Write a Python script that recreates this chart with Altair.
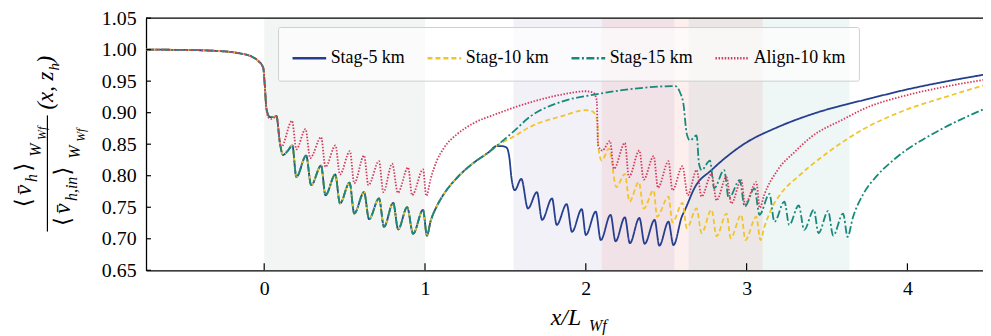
import altair as alt
import pandas as pd

# ---------------- data ----------------
SERIES = ["Stag-5 km", "Stag-10 km", "Stag-15 km", "Align-10 km"]
COLORS = ["#253f8e", "#f0c52c", "#17897b", "#d43b5c"]
DASHES = [[1, 0], [5, 3], [8, 2.5, 2, 2.5], [1.5, 1.6]]

# upstream of first farm (all cases)
PRE_X = [-0.735, -0.5, -0.3, -0.15, -0.07, -0.037, -0.006, 0.004, 0.014]
PRE_Y = [1.000, 0.9995, 0.998, 0.994, 0.988, 0.982, 0.971, 0.942, 0.906]

# staggered cases inside first farm (identical for 5/10/15 km)
STAG_F1_X = [0.035, 0.060, 0.076, 0.097, 0.117, 0.148, 0.175, 0.200, 0.261, 0.292,
             0.354, 0.381, 0.442, 0.471, 0.531, 0.560, 0.621, 0.652, 0.714, 0.745,
             0.802, 0.833, 0.889, 0.926, 0.988, 1.012]
STAG_F1_Y = [0.893, 0.893, 0.895, 0.853, 0.833, 0.840, 0.848, 0.798, 0.832, 0.785,
             0.816, 0.769, 0.802, 0.756, 0.789, 0.740, 0.774, 0.731, 0.764, 0.719,
             0.757, 0.715, 0.750, 0.708, 0.746, 0.705]

# shared recovery behind first farm (staggered)
STAG_REC_X = [1.035, 1.074, 1.12, 1.2, 1.3, 1.4, 1.444]
STAG_REC_Y = [0.728, 0.752, 0.772, 0.797, 0.820, 0.838, 0.847]

# Stag-5 km: second farm + wake recovery
S5_X = [1.475, 1.506, 1.525, 1.537, 1.558, 1.599, 1.640, 1.696, 1.728, 1.790,
        1.819, 1.881, 1.914, 1.975, 2.000, 2.062, 2.093, 2.154, 2.185, 2.243,
        2.274, 2.333, 2.366, 2.428, 2.457, 2.514, 2.545, 2.597, 2.617, 2.679,
        2.782, 2.988, 3.193, 3.399, 3.600, 3.728, 4.000, 4.250, 4.470]
S5_Y = [0.847, 0.845, 0.828, 0.798, 0.777, 0.795, 0.748, 0.774, 0.730, 0.764,
        0.722, 0.755, 0.711, 0.747, 0.706, 0.743, 0.698, 0.738, 0.696, 0.734,
        0.693, 0.733, 0.692, 0.730, 0.689, 0.727, 0.690, 0.735, 0.746, 0.782,
        0.809, 0.851, 0.877, 0.897, 0.912, 0.920, 0.937, 0.950, 0.960]

# Stag-10 km
S10_X = [1.55, 1.65, 1.856, 2.000, 2.041, 2.072, 2.078, 2.099, 2.144, 2.190,
         2.243, 2.272, 2.329, 2.360, 2.422, 2.443, 2.514, 2.539, 2.601, 2.628,
         2.689, 2.720, 2.782, 2.813, 2.875, 2.901, 2.967, 2.992, 3.060, 3.086,
         3.111, 3.150, 3.214, 3.317, 3.399, 3.500, 3.728, 3.975, 4.250, 4.470]
S10_Y = [0.862, 0.877, 0.895, 0.904, 0.902, 0.887, 0.845, 0.824, 0.843, 0.782,
         0.803, 0.759, 0.790, 0.748, 0.777, 0.735, 0.767, 0.726, 0.757, 0.717,
         0.748, 0.709, 0.746, 0.704, 0.740, 0.701, 0.738, 0.698, 0.735, 0.698,
         0.719, 0.745, 0.772, 0.798, 0.816, 0.836, 0.874, 0.903, 0.926, 0.943]

# Stag-15 km
S15_X = [1.55, 1.65, 1.856, 2.062, 2.268, 2.535, 2.556, 2.586, 2.607, 2.628,
         2.648, 2.689, 2.704, 2.720, 2.772, 2.798, 2.860, 2.889, 2.957, 2.988,
         3.049, 3.080, 3.142, 3.173, 3.235, 3.265, 3.324, 3.358, 3.418, 3.447,
         3.507, 3.538, 3.600, 3.628, 3.660, 3.728, 3.800, 3.900, 4.000, 4.100,
         4.250, 4.470]
S15_Y = [0.870, 0.893, 0.918, 0.929, 0.937, 0.942, 0.942, 0.932, 0.914, 0.866,
         0.856, 0.864, 0.819, 0.809, 0.824, 0.780, 0.809, 0.764, 0.793, 0.751,
         0.780, 0.738, 0.771, 0.727, 0.759, 0.722, 0.753, 0.714, 0.746, 0.709,
         0.744, 0.705, 0.740, 0.703, 0.733, 0.772, 0.797, 0.822, 0.842, 0.858,
         0.879, 0.905]

# Align-10 km
AL_X = [0.025, 0.045, 0.076, 0.105, 0.173, 0.200, 0.257, 0.286, 0.354, 0.381,
        0.443, 0.471, 0.533, 0.560, 0.621, 0.648, 0.714, 0.741, 0.796, 0.831,
        0.895, 0.920, 0.988, 1.008, 1.035, 1.074, 1.12, 1.2, 1.3, 1.444,
        1.65, 1.856, 2.000, 2.045, 2.068, 2.076, 2.103, 2.150, 2.175, 2.243,
        2.268, 2.333, 2.360, 2.422, 2.449, 2.514, 2.539, 2.601, 2.634, 2.689,
        2.720, 2.782, 2.813, 2.874, 2.905, 2.967, 2.990, 3.060, 3.082, 3.110,
        3.193, 3.300, 3.399, 3.605, 3.728, 4.000, 4.250, 4.470]
AL_Y = [0.893, 0.890, 0.894, 0.845, 0.887, 0.842, 0.874, 0.828, 0.861, 0.814,
        0.848, 0.802, 0.839, 0.788, 0.832, 0.785, 0.823, 0.774, 0.819, 0.773,
        0.813, 0.769, 0.810, 0.768, 0.795, 0.824, 0.845, 0.866, 0.883, 0.898,
        0.916, 0.929, 0.934, 0.932, 0.920, 0.848, 0.840, 0.855, 0.811, 0.852,
        0.798, 0.840, 0.794, 0.831, 0.781, 0.823, 0.777, 0.815, 0.769, 0.809,
        0.767, 0.803, 0.761, 0.798, 0.756, 0.793, 0.755, 0.790, 0.749, 0.770,
        0.809, 0.838, 0.861, 0.890, 0.906, 0.928, 0.942, 0.952]

# shaded wind-farm regions
REG_START = [0.0, 1.55, 2.10, 2.64]
REG_END = [1.0, 2.55, 3.10, 3.64]
REG_FILL = ["#b4bdb8", "#8c84c0", "#e07060", "#60a8a8"]
REG_OPACITY = [0.16, 0.11, 0.11, 0.10]

X_TICKS = [0, 1, 2, 3, 4]
Y_TICKS = [0.65, 0.70, 0.75, 0.80, 0.85, 0.90, 0.95, 1.00, 1.05]

# ---------------- build tables ----------------
rows = []
def add(name, xs, ys):
    for a, b in zip(xs, ys):
        rows.append({"series": name, "x": a, "y": b, "i": len(rows)})

add("Stag-5 km", PRE_X + STAG_F1_X + STAG_REC_X + S5_X, PRE_Y + STAG_F1_Y + STAG_REC_Y + S5_Y)
add("Stag-10 km", PRE_X + STAG_F1_X + STAG_REC_X + S10_X, PRE_Y + STAG_F1_Y + STAG_REC_Y + S10_Y)
add("Stag-15 km", PRE_X + STAG_F1_X + STAG_REC_X + S15_X, PRE_Y + STAG_F1_Y + STAG_REC_Y + S15_Y)
add("Align-10 km", PRE_X + AL_X, PRE_Y + AL_Y)
df = pd.DataFrame(rows)

regions = pd.DataFrame({"a": REG_START, "b": REG_END, "f": REG_FILL, "o": REG_OPACITY})

W, H = 843, 254
FONT = "'Liberation Serif', 'Times New Roman', Times, 'DejaVu Serif', serif"
xscale = alt.Scale(domain=[-0.735, 4.47], nice=False, zero=False)
yscale = alt.Scale(domain=[0.65, 1.05], nice=False, zero=False)
XAX = alt.Axis(values=X_TICKS, format="d", labelPadding=8, labelFlush=False,
               grid=False, ticks=False)
YAX = alt.Axis(values=Y_TICKS, format=".2f", labelPadding=10, grid=False, ticks=False)

shade = alt.Chart(regions).mark_rect().encode(
    x=alt.X("a:Q", scale=xscale, axis=XAX, title=None),
    x2="b:Q",
    y=alt.value(0),
    y2=alt.value(H),
    fill=alt.Fill("f:N", scale=None),
    opacity=alt.Opacity("o:Q", scale=None),
)

legend = alt.Legend(
    orient="none", legendX=133, legendY=9, direction="horizontal",
    symbolType="stroke", symbolSize=1150, symbolStrokeWidth=2.4,
    labelFont=FONT, labelFontSize=18, labelColor="black", labelOffset=3,
    columnPadding=17, padding=13, fillColor="rgba(255,255,255,0.65)",
    strokeColor="#cfcfcf", cornerRadius=2, labelLimit=300, gridAlign="none",
)

lines = alt.Chart(df).mark_line(strokeWidth=1.8, interpolate="monotone", clip=True).encode(
    x=alt.X("x:Q", scale=xscale, axis=XAX, title=None),
    y=alt.Y("y:Q", scale=yscale, axis=YAX, title=None),
    color=alt.Color("series:N", title=None,
                    scale=alt.Scale(domain=SERIES, range=COLORS), legend=legend),
    strokeDash=alt.StrokeDash("series:N", title=None,
                              scale=alt.Scale(domain=SERIES, range=DASHES), legend=legend),
    order="i:Q",
)

xt = alt.Chart(pd.DataFrame({"v": X_TICKS})).mark_rule(color="black", strokeWidth=1.2).encode(
    x=alt.X("v:Q", scale=xscale, axis=XAX, title=None), y=alt.value(H), y2=alt.value(H - 7))
yt = alt.Chart(pd.DataFrame({"v": Y_TICKS})).mark_rule(color="black", strokeWidth=1.2).encode(
    y=alt.Y("v:Q", scale=yscale, axis=YAX, title=None), x=alt.value(0), x2=alt.value(5))
top = alt.Chart(pd.DataFrame({"v": [0]})).mark_rule(color="black", strokeWidth=1.3).encode(
    x=alt.value(0), x2=alt.value(W), y=alt.value(0))

# axis titles built from text pieces (pixel positions relative to plot)
def txt(s, x, y, size, italic=True, angle=0, baseline="alphabetic"):
    kw = dict(font=FONT, fontSize=size, color="black", align="center", baseline=baseline)
    if italic:
        kw["fontStyle"] = "italic"
    if angle:
        kw["angle"] = angle
    return alt.Chart(pd.DataFrame({"t": [s]})).mark_text(**kw).encode(
        text="t:N", x=alt.value(x), y=alt.value(y))

OX, OY = 147, 17  # plot origin on the page
def P(px, py):
    return px - OX, py - OY

pieces = []
# x title
pieces.append(txt("x/L", *P(570, 326), 24))
pieces.append(txt("Wf", *P(602, 332), 16))
# y title: numerator
pieces.append(txt("\u27e8", *P(31, 203), 23, italic=False, angle=270))
pieces.append(txt("v\u0304", *P(31, 190), 24, angle=270))
pieces.append(txt("h", *P(37, 178), 16, angle=270))
pieces.append(txt("\u27e9", *P(31, 167), 23, italic=False, angle=270))
pieces.append(txt("W", *P(41, 150), 16, angle=270))
pieces.append(txt("Wf", *P(46, 133), 12, angle=270))
pieces.append(txt("(x, z", *P(53, 90), 23, angle=270))
pieces.append(txt("h", *P(59, 66), 15, angle=270))
pieces.append(txt(")", *P(53, 59), 23, angle=270))
# y title: denominator
pieces.append(txt("\u27e8", *P(70, 222), 23, italic=False, angle=270))
pieces.append(txt("v\u0304", *P(70, 209), 24, angle=270))
pieces.append(txt("h,in", *P(77, 189), 16, angle=270))
pieces.append(txt("\u27e9", *P(70, 171), 23, italic=False, angle=270))
pieces.append(txt("W", *P(81, 152), 16, angle=270))
pieces.append(txt("Wf", *P(86, 135), 12, angle=270))

bar = alt.Chart(pd.DataFrame({"v": [0]})).mark_rule(color="black", strokeWidth=1.2).encode(
    x=alt.value(47.7 - OX), y=alt.value(115 - OY), y2=alt.value(232 - OY))

chart = alt.layer(shade, lines, xt, yt, top, bar, *pieces).properties(
    width=W, height=H,
    autosize=alt.AutoSizeParams(type="none"),
    padding={"left": 139, "top": 9, "right": 0, "bottom": 65},
).configure_view(stroke=None).configure_axis(
    labelFont=FONT, labelFontSize=20, labelColor="black",
    domainColor="black", domainWidth=1.3,
)

chart.save("out.html", embed_options={"renderer": "svg", "actions": False})
